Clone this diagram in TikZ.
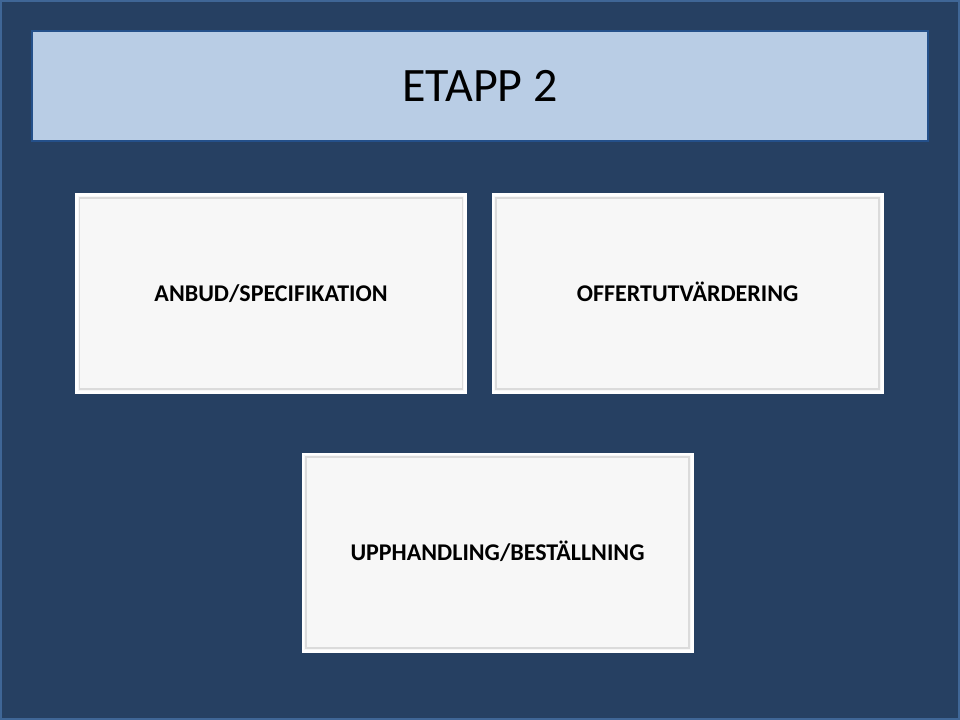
\documentclass[tikz,border=0pt]{standalone}
\usepackage{fontspec}
\setmainfont{Carlito}
\usetikzlibrary{positioning}
\definecolor{slidec}{HTML}{264062}
\definecolor{slideedge}{HTML}{3F6696}
\definecolor{titlec}{HTML}{B9CDE5}
\definecolor{titleedge}{HTML}{24508A}
\definecolor{cardc}{HTML}{F7F7F7}
\tikzstyle{slide} = [
  x=0.75pt,
  y=-0.75pt,
  font=\bfseries\fontsize{18}{22}\selectfont,
]
\tikzstyle{titlebar} = [
  fill=titlec,
  draw=titleedge,
  line width=1.5pt,
  minimum width=672pt,
  minimum height=83pt,
  font=\fontsize{36}{43}\selectfont,
]
\tikzstyle{card} = [
  fill=cardc,
  draw=white,
  line width=2pt,
  minimum width=292pt,
  minimum height=148pt,
  text height=11.6pt,
  text depth=0pt,
  path picture={
    \draw[gray!28, line width=1.4pt]
      ([shift={(2.4pt,-2.4pt)}]path picture bounding box.north west)
      rectangle ([shift={(-2.4pt,2.4pt)}]path picture bounding box.south east);
  },
]

\begin{document}
\begin{tikzpicture}[slide]
      \useasboundingbox (0,0) rectangle (960,720);

      % Background
      \fill[slidec] (0,0) rectangle (960,720);
      \draw[slideedge, line width=1.2pt] (0.8,0.8) rectangle (959.2,719.2);

      % Title
      \node[titlebar] (etapp) at (480,86) {ETAPP 2};

      % Steps
      \node[card] (anbud) at (271,293.5) {ANBUD/SPECIFIKATION};
      \node[card, right=18.5pt of anbud] (offert) {OFFERTUTVÄRDERING};
      \node[card] (upphandling) at (497.5,552.5) {UPPHANDLING/BESTÄLLNING};
    \end{tikzpicture}
\end{document}
